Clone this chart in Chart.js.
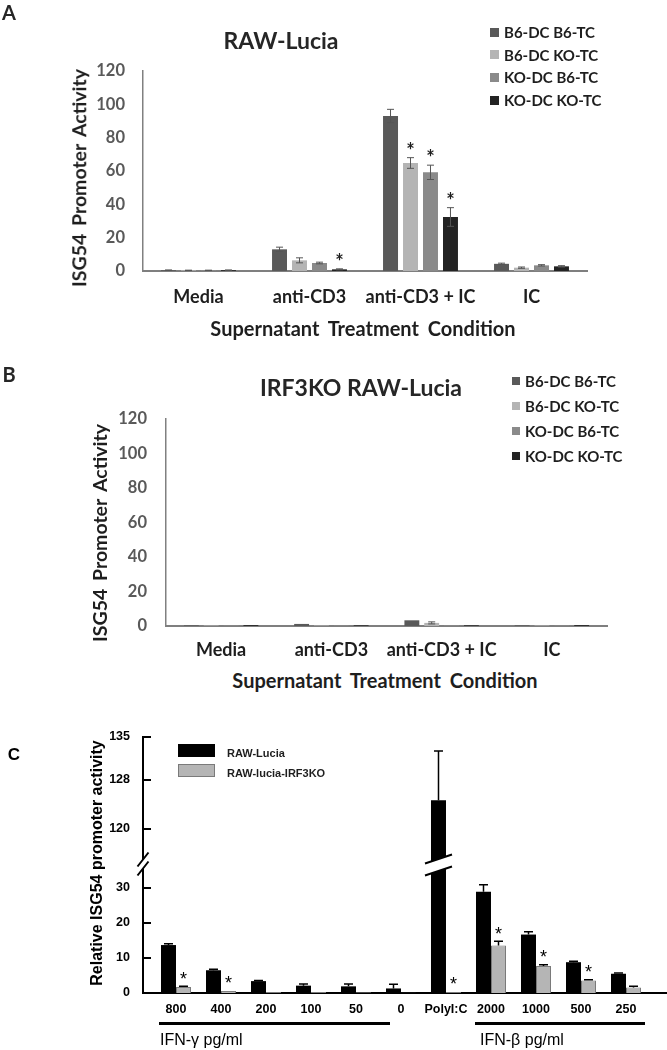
<!DOCTYPE html>
<html>
<head>
<meta charset="utf-8">
<title>ISG54 promoter activity</title>
<script src="https://cdn.jsdelivr.net/npm/chart.js@4.4.1/dist/chart.umd.min.js"></script>
<style>
  html, body { margin: 0; padding: 0; background: #ffffff; }
  #page { position: relative; width: 667px; height: 1050px; overflow: hidden; background: #ffffff; }
  #page canvas { position: absolute; left: 0; }
  .c { position: absolute; white-space: nowrap; line-height: 1; transform: translate(-50%, -50%); }
  .v { position: absolute; white-space: nowrap; line-height: 1; transform: translate(-50%, -50%) rotate(-90deg); }
  .lft { position: absolute; white-space: nowrap; line-height: 1; transform: translate(0, -50%); }
  .cal { font-family: Lato, 'Open Sans', sans-serif; font-weight: 700; color: #1e1e1e; }
  .ari { font-family: 'Liberation Sans', Arial, sans-serif; color: #000; }
  .sq { position: absolute; }
  .rule { position: absolute; height: 3px; background: #000; }
</style>
</head>
<body>
<div id="page">
  <canvas id="chartA" width="667" height="340" style="top:0px"></canvas>
  <canvas id="chartB" width="667" height="320" style="top:340px"></canvas>
  <canvas id="chartC" width="667" height="350" style="top:700px"></canvas>

  <div class="c cal" style="left:9px;top:12px;font-size:20px;color:#262626">A</div>
  <div class="c cal" style="left:281px;top:40px;font-size:23px;color:#262626">RAW-Lucia</div>
  <div class="v cal" style="left:79px;top:178px;font-size:19.5px;word-spacing:3px">ISG54 Promoter Activity</div>
  <div class="c cal" style="left:363px;top:328px;font-size:20px;word-spacing:4px">Supernatant Treatment Condition</div>

  <div class="c cal" style="left:9px;top:374px;font-size:20px;color:#262626">B</div>
  <div class="c cal" style="left:361px;top:387px;font-size:23px;color:#262626">IRF3KO RAW-Lucia</div>
  <div class="v cal" style="left:100px;top:533px;font-size:19.5px;word-spacing:3px">ISG54 Promoter Activity</div>
  <div class="c cal" style="left:385px;top:680px;font-size:20px;word-spacing:4px">Supernatant Treatment Condition</div>

  <div class="c ari" style="left:14px;top:754px;font-size:17px;font-weight:700">C</div>
  <div class="v ari" style="left:97px;top:863px;font-size:16px;font-weight:700">Relative ISG54 promoter activity</div>
  <div class="rule" style="left:159px;top:1022px;width:231px"></div>
  <div class="rule" style="left:475px;top:1022px;width:170px"></div>
  <div class="lft ari" style="left:160px;top:1040px;font-size:16px">IFN-γ pg/ml</div>
  <div class="lft ari" style="left:480px;top:1040px;font-size:16px">IFN-β pg/ml</div>
  <div id="legends"></div>
</div>

<script>
// ================= DATA =================
// Panels A & B (grouped bars)
const categoriesAB = ['Media', 'anti-CD3', 'anti-CD3 + IC', 'IC'];
const seriesAB = ['B6-DC B6-TC', 'B6-DC KO-TC', 'KO-DC B6-TC', 'KO-DC KO-TC'];
const colorsAB = ['#595959', '#b4b4b4', '#8a8a8a', '#232323'];

// Panel A: RAW-Lucia
const aB6B6 = [0.5, 13.0, 93.0, 4.3];
const aB6KO = [0.4, 6.4, 64.8, 2.0];
const aKOB6 = [0.4, 4.8, 59.2, 3.4];
const aKOKO = [0.5, 1.0, 32.4, 2.8];
const aErrB6B6 = [0.1, 1.3, 4.0, 0.4];
const aErrB6KO = [0.1, 1.5, 3.2, 0.4];
const aErrKOB6 = [0.1, 0.5, 4.3, 0.4];
const aErrKOKO = [0.1, 0.3, 5.6, 0.4];
const aStarB6B6 = [false, false, false, false];
const aStarB6KO = [false, false, true, false];
const aStarKOB6 = [false, false, true, false];
const aStarKOKO = [false, true, true, false];

// Panel B: IRF3KO RAW-Lucia
const bB6B6 = [0.4, 1.2, 3.3, 0.4];
const bB6KO = [0.3, 0.3, 1.8, 0.3];
const bKOB6 = [0.3, 0.3, 0.4, 0.3];
const bKOKO = [0.5, 0.4, 0.4, 0.5];
const bErrB6B6 = [0, 0, 0, 0];
const bErrB6KO = [0, 0, 0.6, 0];
const bErrKOB6 = [0, 0, 0, 0];
const bErrKOKO = [0, 0, 0, 0];

// Panel C (broken y axis)
const labelsC = ['800', '400', '200', '100', '50', '0', 'PolyI:C', '2000', '1000', '500', '250'];
const seriesC = ['RAW-Lucia', 'RAW-lucia-IRF3KO'];
const colorsC = ['#000000', '#b5b5b5'];
const cLucia    = [13.7, 6.5, 3.4, 2.1, 1.9, 1.3, 124.7, 28.9, 16.7, 8.8, 5.5];
const cLuciaErr = [0.4, 0.3, 0.2, 0.5, 0.7, 1.2, 8.0, 2.0, 0.8, 0.3, 0.2];
const cKO       = [1.7, 0.6, 0.3, 0.3, 0.2, 0.1, 0.3, 13.6, 7.7, 3.6, 1.6];
const cKOErr    = [0.2, 0, 0, 0, 0, 0, 0, 1.2, 0.4, 0.2, 0.3];
const cKOStar   = [true, true, false, false, false, false, true, true, true, true, false];
const cLowerTicks = [0, 10, 20, 30];
const cUpperTicks = [120, 128, 135];
const cLowerMax = 36.57;   // top of lower axis segment
const cUpperMin = 114.13;  // bottom of upper axis segment
const cUpperMax = 135;
const cXMin = -0.733, cXMax = 10.911;

// ================= PLUGINS =================
function valueOf(d) { return (d !== null && typeof d === 'object') ? d.y : d; }

const errorBarPlugin = {
  id: 'errorBars',
  afterDatasetsDraw(chart) {
    const ctx = chart.ctx;
    chart.data.datasets.forEach((ds, di) => {
      if (!ds.errors) return;
      const meta = chart.getDatasetMeta(di);
      const ys = chart.scales[meta.yAxisID];
      ctx.save();
      ctx.strokeStyle = ds.errorColor;
      ctx.lineWidth = ds.errorWidth;
      meta.data.forEach((bar, i) => {
        const e = ds.errors[i];
        if (!e) return;
        const v = valueOf(ds.data[i]);
        const yTop = ys.getPixelForValue(v + e);
        const yBot = ds.errorUpOnly ? bar.y : ys.getPixelForValue(Math.max(v - e, 0));
        const hw = ds.errorCap;
        ctx.beginPath();
        ctx.moveTo(bar.x, yBot); ctx.lineTo(bar.x, yTop);
        ctx.moveTo(bar.x - hw, yTop); ctx.lineTo(bar.x + hw, yTop);
        if (!ds.errorUpOnly) { ctx.moveTo(bar.x - hw, yBot); ctx.lineTo(bar.x + hw, yBot); }
        ctx.stroke();
      });
      ctx.restore();
    });
  }
};

const starPlugin = {
  id: 'stars',
  afterDatasetsDraw(chart) {
    const ctx = chart.ctx;
    chart.data.datasets.forEach((ds, di) => {
      if (!ds.stars) return;
      const meta = chart.getDatasetMeta(di);
      const ys = chart.scales[meta.yAxisID];
      ctx.save();
      ctx.font = ds.starFont;
      ctx.fillStyle = ds.starColor;
      ctx.textAlign = 'center';
      ctx.textBaseline = 'alphabetic';
      meta.data.forEach((bar, i) => {
        if (!ds.stars[i]) return;
        const v = valueOf(ds.data[i]);
        const e = (ds.errors && ds.errors[i]) || 0;
        const top = ys.getPixelForValue(v + e);
        ctx.fillText('*', bar.x, top - ds.starGap);
      });
      ctx.restore();
    });
  }
};

function drawBreak(ctx, xc, yc, hw, hh, gap) {
  ctx.fillStyle = '#ffffff';
  ctx.beginPath();
  ctx.moveTo(xc - hw, yc - gap + hh);
  ctx.lineTo(xc + hw, yc - gap - hh);
  ctx.lineTo(xc + hw, yc + gap - hh);
  ctx.lineTo(xc - hw, yc + gap + hh);
  ctx.closePath();
  ctx.fill();
  ctx.strokeStyle = '#000000';
  ctx.lineWidth = 2;
  ctx.beginPath();
  ctx.moveTo(xc - hw, yc - gap + hh); ctx.lineTo(xc + hw, yc - gap - hh);
  ctx.moveTo(xc - hw, yc + gap + hh); ctx.lineTo(xc + hw, yc + gap - hh);
  ctx.stroke();
}

const splitAxisPlugin = {
  id: 'splitAxis',
  afterDraw(chart) {
    const ctx = chart.ctx;
    const axisX = chart.chartArea.left;
    ctx.save();
    // inward tick marks on both y segments
    ctx.strokeStyle = '#000000';
    ctx.lineWidth = 2;
    ['yHigh', 'yLow'].forEach(id => {
      const s = chart.scales[id];
      s.ticks.forEach(t => {
        const py = Math.round(s.getPixelForValue(t.value));
        ctx.beginPath();
        ctx.moveTo(axisX, py); ctx.lineTo(axisX + 8, py);
        ctx.stroke();
      });
    });
    const low = chart.scales.yLow, high = chart.scales.yHigh;
    const boundary = (Math.min(low.top, low.bottom) + Math.max(high.bottom, high.top)) / 2;
    drawBreak(ctx, axisX, boundary - 1, 5.5, 7, 4.5);
    chart.data.datasets.forEach((ds, di) => {
      if (!ds.brokenBar) return;
      chart.getDatasetMeta(di).data.forEach(bar => drawBreak(ctx, bar.x, boundary, 13.5, 4.5, 6));
    });
    ctx.restore();
  }
};

// ================= CHARTS =================
function groupedChart(id, values, errs, stars, L) {
  return new Chart(document.getElementById(id), {
    type: 'bar',
    data: {
      labels: categoriesAB,
      datasets: seriesAB.map((name, k) => ({
        label: name,
        data: values[k],
        backgroundColor: colorsAB[k],
        borderWidth: 0,
        errors: errs[k],
        errorColor: '#555555',
        errorWidth: 1,
        errorCap: 3.5,
        errorUpOnly: false,
        stars: stars ? stars[k] : null,
        starFont: 'bold 20px Lato',
        starColor: '#1e1e1e',
        starGap: 0
      }))
    },
    options: {
      responsive: false,
      animation: false,
      devicePixelRatio: 1,
      events: [],
      layout: { padding: { top: L.top, right: L.right, left: 0, bottom: 0 } },
      datasets: { bar: { categoryPercentage: 0.72, barPercentage: 0.75 } },
      plugins: { legend: { display: false }, tooltip: { enabled: false }, title: { display: false } },
      scales: {
        x: {
          grid: { display: false, drawTicks: false },
          border: { display: true, color: '#7f7f7f', width: 2 },
          ticks: { color: '#1e1e1e', font: { family: 'Lato', weight: 'bold', size: 18 }, padding: L.xPad, maxRotation: 0, autoSkip: false },
          afterFit: s => { s.height = L.xHeight; }
        },
        y: {
          min: 0, max: 120,
          grid: { display: false, drawTicks: false },
          border: { display: true, color: '#808080', width: 1.5 },
          ticks: { stepSize: 20, color: '#595959', font: { family: 'Lato', weight: 'bold', size: 16.5 }, padding: L.yPad },
          afterFit: s => { s.width = L.yWidth; }
        }
      }
    },
    plugins: [errorBarPlugin, starPlugin]
  });
}

function chartC() {
  const lowerBlack = cLucia.map((v, i) => ({ x: i, y: Math.min(v, cLowerMax) }));
  const lowerBlackErr = cLucia.map((v, i) => v > cLowerMax ? 0 : cLuciaErr[i]);
  const upperIdx = cLucia.map((v, i) => i).filter(i => cLucia[i] > cLowerMax);
  const upperBlack = upperIdx.map(i => ({ x: i, y: cLucia[i] }));
  const upperBlackErr = upperIdx.map(i => cLuciaErr[i]);
  const gray = cKO.map((v, i) => ({ x: i, y: v }));
  const common = { errorColor: '#000000', errorWidth: 1.5, errorCap: 4.5, errorUpOnly: true };
  const tickFont = { family: 'Liberation Sans', weight: 'bold', size: 12.5 };
  return new Chart(document.getElementById('chartC'), {
    type: 'bar',
    data: {
      datasets: [
        Object.assign({ label: seriesC[0], data: lowerBlack, yAxisID: 'yLow', stack: 'black',
          backgroundColor: colorsC[0], borderWidth: 0, errors: lowerBlackErr }, common),
        Object.assign({ label: seriesC[1], data: gray, yAxisID: 'yLow', stack: 'gray',
          backgroundColor: colorsC[1], borderColor: '#7a7a7a', borderWidth: 1, errors: cKOErr,
          stars: cKOStar, starFont: '18px "Liberation Sans", Arial, sans-serif', starColor: '#000000', starGap: 1.5 }, common),
        Object.assign({ label: seriesC[0], data: upperBlack, yAxisID: 'yHigh', stack: 'black',
          backgroundColor: colorsC[0], borderWidth: 0, errors: upperBlackErr, brokenBar: true }, common)
      ]
    },
    options: {
      responsive: false,
      animation: false,
      devicePixelRatio: 1,
      events: [],
      layout: { padding: { top: 37, right: 0, left: 0, bottom: 0 } },
      datasets: { bar: { categoryPercentage: 2 / 3, barPercentage: 1 } },
      plugins: { legend: { display: false }, tooltip: { enabled: false }, title: { display: false } },
      scales: {
        x: {
          type: 'linear', min: cXMin, max: cXMax, offset: false, bounds: 'data',
          grid: { display: false, drawTicks: false, offset: false },
          border: { display: true, color: '#000000', width: 2 },
          ticks: { color: '#000000', font: tickFont, padding: 9.5,
                   maxRotation: 0, autoSkip: false, callback: v => labelsC[v] },
          afterBuildTicks: s => { s.ticks = labelsC.map((_, i) => ({ value: i })); },
          afterFit: s => { s.height = 57; }
        },
        yLow: {
          type: 'linear', axis: 'y', position: 'left', stack: 'split', stackWeight: 1,
          min: 0, max: cLowerMax, bounds: 'data', stacked: false,
          grid: { display: false, drawTicks: false },
          border: { display: true, color: '#000000', width: 2 },
          ticks: { color: '#000000', font: tickFont, padding: 13 },
          afterBuildTicks: s => { s.ticks = cLowerTicks.map(v => ({ value: v })); },
          afterFit: s => { s.width = 143; }
        },
        yHigh: {
          type: 'linear', axis: 'y', position: 'left', stack: 'split', stackWeight: 1,
          min: cUpperMin, max: cUpperMax, bounds: 'data', beginAtZero: false, stacked: false,
          grid: { display: false, drawTicks: false },
          border: { display: true, color: '#000000', width: 2 },
          ticks: { color: '#000000', font: tickFont, padding: 13 },
          afterBuildTicks: s => { s.ticks = cUpperTicks.map(v => ({ value: v })); },
          afterFit: s => { s.width = 143; }
        }
      }
    },
    plugins: [errorBarPlugin, starPlugin, splitAxisPlugin]
  });
}

// ================= LEGENDS (HTML text) =================
function addLegend(names, colors, sqX, textX, y0, step, sq) {
  const host = document.getElementById('legends');
  names.forEach((n, k) => {
    const y = y0 + k * step;
    const s = document.createElement('div');
    s.className = 'sq';
    s.style.cssText = `left:${sqX}px;top:${y - sq / 2}px;width:${sq}px;height:${sq}px;background:${colors[k]}`;
    host.appendChild(s);
    const t = document.createElement('div');
    t.className = 'lft cal';
    t.style.cssText = `left:${textX}px;top:${y}px;font-size:15px;color:#1e1e1e`;
    t.textContent = n;
    host.appendChild(t);
  });
}
function addLegendC() {
  const host = document.getElementById('legends');
  const ys = [750.5, 770.5];
  seriesC.forEach((n, k) => {
    const b = document.createElement('div');
    b.className = 'sq';
    b.style.cssText = `left:178px;top:${ys[k] - 6.5}px;width:${k ? 35 : 37}px;height:${k ? 11 : 13}px;background:${colorsC[k]};` +
      (k ? 'border:1px solid #7a7a7a;' : '');
    host.appendChild(b);
    const t = document.createElement('div');
    t.className = 'lft ari';
    t.style.cssText = `left:227px;top:${ys[k] + 2}px;font-size:11px;font-weight:700;color:#1e1e1e`;
    t.textContent = n;
    host.appendChild(t);
  });
}

function drawAll() {
  groupedChart('chartA',
    [aB6B6, aB6KO, aKOB6, aKOKO],
    [aErrB6B6, aErrB6KO, aErrKOB6, aErrKOKO],
    [aStarB6B6, aStarB6KO, aStarKOB6, aStarKOKO],
    { top: 71, right: 80, xHeight: 69, xPad: 15, yWidth: 143, yPad: 18 });
  groupedChart('chartB',
    [bB6B6, bB6KO, bKOB6, bKOKO],
    [bErrB6B6, bErrB6KO, bErrKOB6, bErrKOKO],
    null,
    { top: 79, right: 60, xHeight: 34, xPad: 13, yWidth: 166, yPad: 19 });
  chartC();
  addLegend(seriesAB, colorsAB, 490, 504, 32, 22.7, 9);
  addLegend(seriesAB, colorsAB, 512, 525, 380.5, 25, 8);
  addLegendC();
}

Promise.all([
  document.fonts.load('bold 16px Lato'),
  document.fonts.load('bold 12px "Liberation Sans"'),
  document.fonts.load('16px "Liberation Sans"')
]).catch(() => {}).then(drawAll);
</script>
</body>
</html>
